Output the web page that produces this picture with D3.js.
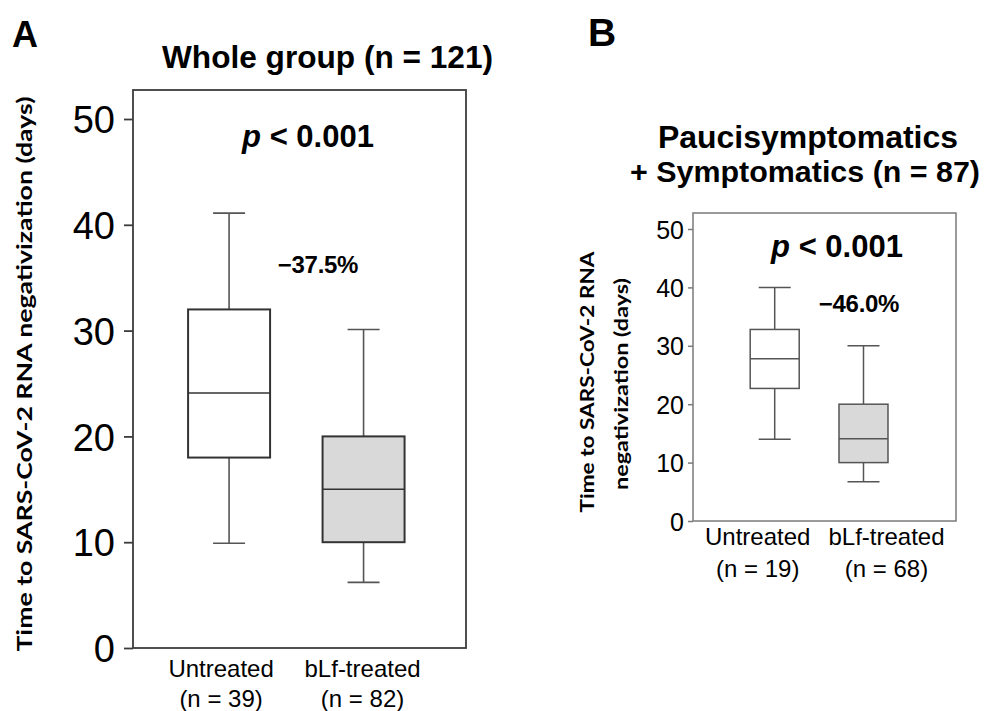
<!DOCTYPE html>
<html>
<head>
<meta charset="utf-8">
<script src="https://cdn.jsdelivr.net/npm/d3@7"></script>
<style>
  html, body { margin: 0; padding: 0; background: #fff; }
  svg { display: block; }
</style>
</head>
<body>
<script>
// ---------- data ----------
const groups = ["Untreated", "bLf-treated"];
const nLabelsA = ["(n = 39)", "(n = 82)"];
const nLabelsB = ["(n = 19)", "(n = 68)"];
// [min, q1, median, q3, max] in days
const boxA_untreated = [9.9, 18.0, 24.1, 32.0, 41.1];
const boxA_bLf       = [6.2, 10.0, 15.0, 20.0, 30.1];
const boxB_untreated = [14.0, 22.7, 27.8, 32.8, 40.0];
const boxB_bLf       = [6.7, 10.0, 14.1, 20.0, 30.0];
const yTicks = [0, 10, 20, 30, 40, 50];
const yDomain = [0, 50];
const titleA = "Whole group (n = 121)";
const titleB = ["Paucisymptomatics", "+ Symptomatics (n = 87)"];
const pText = "< 0.001";
const changeA = "\u221237.5%";
const changeB = "\u221246.0%";
const yTitleFull = "Time to SARS-CoV-2 RNA negativization (days)";
const yTitleB = ["Time to SARS-CoV-2 RNA", "negativization (days)"];

// ---------- layout ----------
const W = 996, H = 711;
const svg = d3.select("body").append("svg").attr("width", W).attr("height", H);
svg.append("rect").attr("width", W).attr("height", H).attr("fill", "#fff");

const SANS = "'Liberation Sans', Arial, Helvetica, sans-serif";
const TITLEFONT = "Lato, 'Open Sans', sans-serif";

function drawPanel(cfg) {
  const g = svg.append("g");
  const y = d3.scaleLinear().domain(yDomain).range([cfg.y0, cfg.y50]);
  const x = d3.scalePoint().domain(groups).range([cfg.left, cfg.right])
    .padding(cfg.pad).align(cfg.align);

  // frame
  g.append("rect")
    .attr("x", cfg.left).attr("y", cfg.top)
    .attr("width", cfg.right - cfg.left).attr("height", cfg.y0 - cfg.top)
    .attr("fill", "none").attr("stroke", cfg.frameColor).attr("stroke-width", cfg.frameWidth);

  // axis
  const ax = g.append("g").attr("transform", `translate(${cfg.left},0)`)
    .call(d3.axisLeft(y).tickValues(yTicks).tickSize(cfg.tickLen).tickPadding(cfg.tickPad).tickFormat(d3.format("d")));
  ax.select(".domain").remove();
  ax.selectAll(".tick line").attr("stroke", cfg.frameColor).attr("stroke-width", cfg.frameWidth);
  ax.selectAll(".tick text").attr("font-family", SANS).attr("font-size", cfg.tickFont)
    .attr("fill", "#000").attr("dy", "0.36em");

  // boxes
  cfg.boxes.forEach((b, i) => {
    const cx = x(groups[i]);
    const [mn, q1, md, q3, mx] = b;
    [[q3, mx], [q1, mn]].forEach(([a, c]) => {
      g.append("line").attr("x1", cx).attr("x2", cx).attr("y1", y(a)).attr("y2", y(c))
        .attr("stroke", cfg.whiskerColor).attr("stroke-width", cfg.whiskerWidth);
      g.append("line").attr("x1", cx - cfg.capW / 2).attr("x2", cx + cfg.capW / 2)
        .attr("y1", y(c)).attr("y2", y(c))
        .attr("stroke", cfg.whiskerColor).attr("stroke-width", cfg.whiskerWidth);
    });
    g.append("rect").attr("x", cx - cfg.boxW / 2).attr("width", cfg.boxW)
      .attr("y", y(q3)).attr("height", y(q1) - y(q3))
      .attr("fill", cfg.fills[i]).attr("stroke", cfg.boxColor).attr("stroke-width", cfg.boxWidth);
    g.append("line").attr("x1", cx - cfg.boxW / 2).attr("x2", cx + cfg.boxW / 2)
      .attr("y1", y(md)).attr("y2", y(md))
      .attr("stroke", cfg.boxColor).attr("stroke-width", cfg.medianWidth);

    // x labels
    const lx = cx + cfg.labelShift[i];
    g.append("text").attr("x", lx).attr("y", cfg.lab1Y).attr("text-anchor", "middle")
      .attr("font-family", SANS).attr("font-size", cfg.labFont).text(groups[i]);
    g.append("text").attr("x", lx).attr("y", cfg.lab2Y).attr("text-anchor", "middle")
      .attr("font-family", SANS).attr("font-size", cfg.labFont).text(cfg.nLabels[i]);
  });

  // p-value
  const pt = g.append("text").attr("x", cfg.pX).attr("y", cfg.pY).attr("text-anchor", "middle")
    .attr("font-family", SANS).attr("font-size", cfg.pFont).attr("font-weight", "bold");
  pt.append("tspan").attr("font-style", "italic").text("p");
  pt.append("tspan").text(" " + pText);

  g.append("text").attr("x", cfg.cX).attr("y", cfg.cY).attr("text-anchor", "middle")
    .attr("font-family", SANS).attr("font-size", cfg.cFont).attr("font-weight", "bold")
    .attr("letter-spacing", "-0.3").text(cfg.change);
  return { x, y };
}

// Panel A
drawPanel({
  left: 133, right: 466, top: 90, y0: 648, y50: 119,
  pad: 0.738, align: 0.484,
  frameColor: "#3c3c3c", frameWidth: 1.8,
  tickLen: 9, tickPad: 9, tickFont: 38,
  boxes: [boxA_untreated, boxA_bLf], fills: ["#ffffff", "#d9d9d9"],
  boxW: 82, capW: 32, boxColor: "#333", boxWidth: 2, medianWidth: 1.6,
  whiskerColor: "#555", whiskerWidth: 1.6,
  nLabels: nLabelsA, labelShift: [-8, -1], lab1Y: 677, lab2Y: 707, labFont: 24,
  pX: 308, pY: 147, pFont: 31,
  cX: 318, cY: 273, cFont: 24, change: changeA
});

// Panel B
drawPanel({
  left: 693, right: 956, top: 213, y0: 521, y50: 229,
  pad: 0.981, align: 0.469,
  frameColor: "#7a7a7a", frameWidth: 1.5,
  tickLen: 5, tickPad: 4, tickFont: 25,
  boxes: [boxB_untreated, boxB_bLf], fills: ["#ffffff", "#d9d9d9"],
  boxW: 49, capW: 32, boxColor: "#555", boxWidth: 1.5, medianWidth: 1.5,
  whiskerColor: "#555", whiskerWidth: 1.5,
  nLabels: nLabelsB, labelShift: [-17, 23], lab1Y: 545, lab2Y: 577, labFont: 24,
  pX: 837, pY: 257, pFont: 31,
  cX: 859, cY: 312, cFont: 24, change: changeB
});

// Panel letters and titles
svg.append("text").attr("x", 12).attr("y", 47).attr("font-family", SANS)
  .attr("font-size", 36).attr("font-weight", "bold").text("A");
svg.append("text").attr("x", 588).attr("y", 46).attr("font-family", SANS)
  .attr("font-size", 39).attr("font-weight", "bold").text("B");

svg.append("text").attr("x", 327.5).attr("y", 68).attr("text-anchor", "middle")
  .attr("font-family", SANS).attr("font-size", 31).attr("font-weight", "bold")
  .attr("textLength", 331).attr("lengthAdjust", "spacingAndGlyphs").text(titleA);

svg.append("text").attr("x", 808).attr("y", 148).attr("text-anchor", "middle")
  .attr("font-family", SANS).attr("font-size", 31).attr("font-weight", "bold")
  .attr("textLength", 300).attr("lengthAdjust", "spacingAndGlyphs").text(titleB[0]);
svg.append("text").attr("x", 805).attr("y", 182).attr("text-anchor", "middle")
  .attr("font-family", SANS).attr("font-size", 30).attr("font-weight", "bold")
  .attr("textLength", 350).attr("lengthAdjust", "spacingAndGlyphs").text(titleB[1]);

// Y axis titles (rotated)
svg.append("text").attr("transform", "translate(32,374) rotate(-90)")
  .attr("text-anchor", "middle").attr("font-family", TITLEFONT).attr("font-weight", "bold")
  .attr("font-size", 21).attr("textLength", 555).attr("lengthAdjust", "spacingAndGlyphs")
  .text(yTitleFull);

svg.append("text").attr("transform", "translate(594,382) rotate(-90)")
  .attr("text-anchor", "middle").attr("font-family", TITLEFONT).attr("font-weight", "bold")
  .attr("font-size", 19).attr("textLength", 261).attr("lengthAdjust", "spacingAndGlyphs")
  .text(yTitleB[0]);
svg.append("text").attr("transform", "translate(628,384) rotate(-90)")
  .attr("text-anchor", "middle").attr("font-family", TITLEFONT).attr("font-weight", "bold")
  .attr("font-size", 19).attr("textLength", 212).attr("lengthAdjust", "spacingAndGlyphs")
  .text(yTitleB[1]);
</script>
</body>
</html>
